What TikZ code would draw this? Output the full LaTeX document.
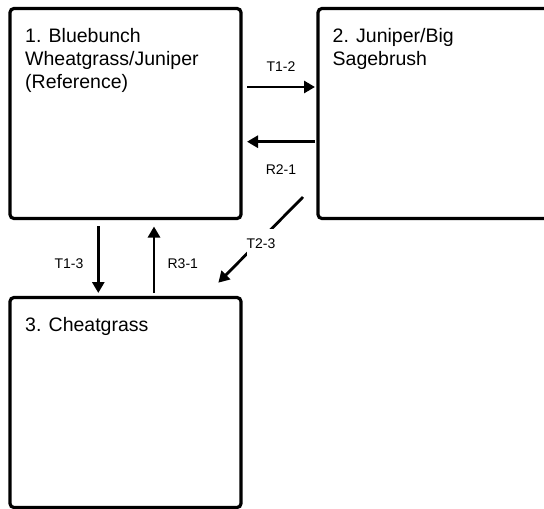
\documentclass[tikz,border=0pt]{standalone}
\usepackage{fontspec}
\setmainfont{Liberation Sans}
\usetikzlibrary{positioning,arrows.meta}

\begin{document}
\begin{tikzpicture}
[state/.style = {draw, line width=3.2pt, rounded corners=4pt,
    minimum width=231pt, minimum height=210pt, inner sep=0pt, outer sep=0pt},
  statetext/.style = {anchor=north west, align=left, inner sep=0pt,
    font=\fontsize{19.5pt}{23.3pt}\selectfont},
  flow/.style = {line width=2.8pt, -{Triangle[length=11pt,width=12pt]}},
  lbl/.style = {font=\fontsize{14pt}{16pt}\selectfont, inner sep=0pt}]
  \useasboundingbox (0,0) rectangle (544pt,-509pt);
  % states
  \node[state] (box1) at (125.5pt,-113.5pt) {};
  \node[state, right=77pt of box1] (box2) {};
  \node[state, below=79pt of box1] (box3) {};
  \node[statetext, below right=19.3pt and 15pt of box1.north west] (name1)
    {1. Bluebunch\\Wheatgrass/Juniper\\(Reference)};
  \node[statetext, below right=19.3pt and 14.5pt of box2.north west] (name2)
    {2. Juniper/Big\\Sagebrush};
  \node[statetext, below right=19.3pt and 15pt of box3.north west] (name3)
    {3. Cheatgrass};
  % transitions
  \draw[flow, shorten <=6pt, shorten >=3pt] ([yshift=26.5pt]box1.east)
    -- node[lbl, midway, xshift=1.5pt, yshift=20pt] (t12) {T1-2} ([yshift=26.5pt]box2.west);
  \draw[flow, shorten <=3pt, shorten >=6pt] ([yshift=-28.2pt]box2.west)
    -- node[lbl, midway, xshift=1.5pt, yshift=-28pt] (r21) {R2-1} ([yshift=-28.2pt]box1.east);
  \draw[flow, shorten <=7.5pt, shorten >=4.5pt] ([xshift=-27.2pt]box1.south)
    -- node[lbl, midway, xshift=-29.3pt, yshift=-6pt] (t13) {T1-3} ([xshift=-27.2pt]box3.north);
  \draw[flow, shorten <=4.5pt, shorten >=8pt] ([xshift=28.5pt]box3.north)
    -- node[lbl, midway, xshift=28.8pt, yshift=-6pt] (r31) {R3-1} ([xshift=28.5pt]box1.south);
  \draw[flow] ([shift={(-15pt,21.5pt)}]box2.south west)
    -- node[lbl, midway, fill=white, inner xsep=0pt, minimum height=30pt,
         xshift=.4pt, yshift=-4pt] (t23) {T2-3} ([shift={(-22.7pt,14.8pt)}]box3.north east);
\end{tikzpicture}
\end{document}
